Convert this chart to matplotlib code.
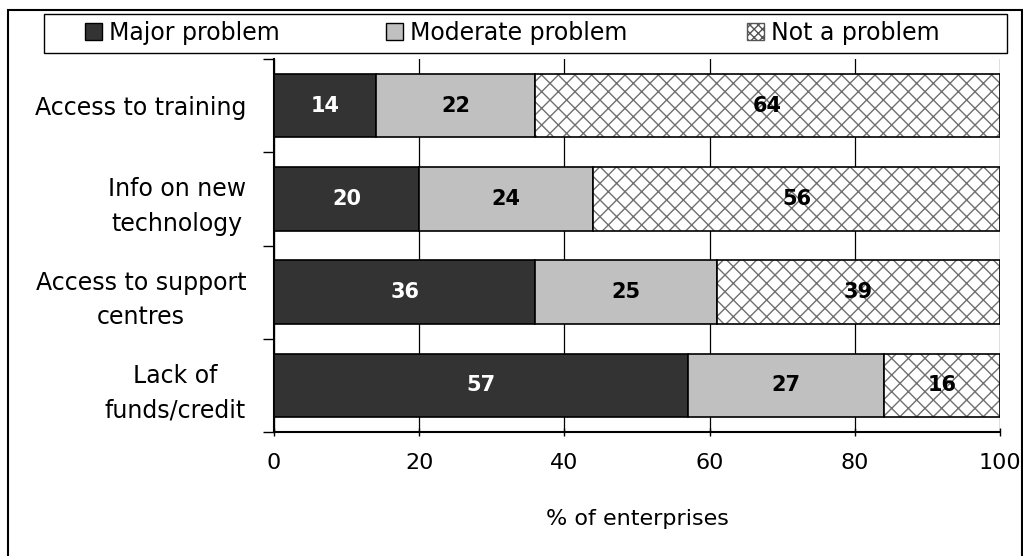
import matplotlib.pyplot as plt
import numpy as np
from matplotlib.patches import Rectangle, Patch

plt.rcParams['font.family'] = ['DejaVu Sans']

categories = ['Access to training', 'Info on new\ntechnology',
              'Access to support\ncentres', 'Lack of\nfunds/credit']
major = [14, 20, 36, 57]
moderate = [22, 24, 25, 27]
not_problem = [64, 56, 39, 16]
series_names = ['Major problem', 'Moderate problem', 'Not a problem']

fig = plt.figure(figsize=(10.23, 5.56), dpi=100)
ax = fig.add_axes([0.2678, 0.2230, 0.7097, 0.6709])

y = np.arange(len(categories))
h = 0.68
major = np.array(major)
moderate = np.array(moderate)
not_problem = np.array(not_problem)

ax.barh(y, major, h, color='#333333', edgecolor='black', lw=1.2, zorder=3)
ax.barh(y, moderate, h, left=major, color='#c0c0c0', edgecolor='black', lw=1.2, zorder=3)
# hatched segment: grey hatch underneath, black outline on top
ax.barh(y, not_problem, h, left=major + moderate, color='white', edgecolor='#707070',
        hatch='xx', lw=0, zorder=3)
ax.barh(y, not_problem, h, left=major + moderate, fill=False, edgecolor='black', lw=1.2, zorder=4)

for i in range(len(categories)):
    ax.text(major[i] / 2, y[i], str(major[i]), ha='center', va='center',
            color='white', fontsize=15, fontweight='bold', zorder=5)
    ax.text(major[i] + moderate[i] / 2, y[i], str(moderate[i]), ha='center', va='center',
            color='black', fontsize=15, fontweight='bold', zorder=5)
    ax.text(major[i] + moderate[i] + not_problem[i] / 2, y[i], str(not_problem[i]),
            ha='center', va='center', color='black', fontsize=15, fontweight='bold', zorder=5)

ax.set_xlim(0, 100)
ax.set_ylim(len(categories) - 0.5, -0.5)
ax.set_xticks([0, 20, 40, 60, 80, 100])
ax.set_yticks(y)
ax.set_yticklabels(categories, multialignment='center', linespacing=1.55)
ax.set_yticks(np.arange(len(categories) + 1) - 0.5, minor=True)
ax.tick_params(axis='y', which='major', length=0, pad=20, labelsize=17)
ax.tick_params(axis='y', which='minor', length=8, width=1, direction='out')
ax.tick_params(axis='x', length=6, width=1, direction='inout', pad=12, labelsize=16)
ax.xaxis.grid(True, color='black', lw=0.9, zorder=0)
ax.set_axisbelow(True)
for s in ['top', 'right']:
    ax.spines[s].set_visible(False)
ax.spines['left'].set_linewidth(1.5)
ax.spines['bottom'].set_linewidth(1.5)
ax.set_xlabel('% of enterprises', fontsize=16, labelpad=26)

# legend: one frame, three entries placed like the original columns
handles = [Patch(facecolor='#333333', edgecolor='black'),
           Patch(facecolor='#c0c0c0', edgecolor='black'),
           Patch(facecolor='white', edgecolor='#555555', hatch='xxxx')]
leg_x = [0.0831, 0.3773, 0.7302]
for hd, name, lx in zip(handles, series_names, leg_x):
    fig.legend([hd], [name], loc='center left', bbox_to_anchor=(lx, 0.9406),
               fontsize=17, frameon=False, handlelength=0.7, handleheight=0.7,
               handletextpad=0.3, borderpad=0, borderaxespad=0)
fig.patches.append(Rectangle((0.043, 0.9047), 0.9413, 0.0701, transform=fig.transFigure,
                             fill=False, edgecolor='black', lw=1.0))

fig.patches.append(Rectangle((0.008, -0.01), 0.991, 0.992, transform=fig.transFigure,
                             fill=False, edgecolor='black', lw=1.5))

fig.savefig('out.png', dpi=100)
